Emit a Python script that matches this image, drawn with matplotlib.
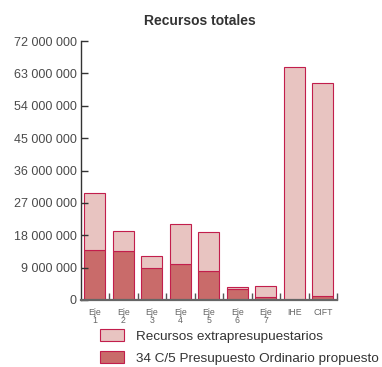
import matplotlib
matplotlib.use("Agg")
import matplotlib.pyplot as plt
from matplotlib.patches import Patch
from matplotlib.ticker import FuncFormatter

plt.rcParams["font.family"] = ["Liberation Sans", "DejaVu Sans"]

categorias = ["Eje\n1", "Eje\n2", "Eje\n3", "Eje\n4", "Eje\n5", "Eje\n6", "Eje\n7", "IHE", "CIFT"]
# valores en millones
presupuesto_ordinario = [13.8, 13.6, 8.9, 10.0, 8.2, 3.1, 0.8, 0.0, 1.1]
total_recursos = [29.8, 19.2, 12.3, 21.2, 18.9, 3.5, 4.0, 64.9, 60.2]
extrapresupuestarios = [t - p for t, p in zip(total_recursos, presupuesto_ordinario)]

color_claro = "#E8C4C1"
color_oscuro = "#C96B6A"
color_borde = "#C21E4C"

fig = plt.figure(figsize=(3.82, 3.67), dpi=100)
ax = fig.add_axes([80.7 / 382, 1 - 300 / 367, (337 - 80.7) / 382, (300 - 41) / 367])

x = list(range(len(categorias)))
ax.bar(x, [v * 1e6 for v in presupuesto_ordinario], width=0.74,
       color=color_oscuro, edgecolor=color_borde, linewidth=0.8)
ax.bar(x, [v * 1e6 for v in extrapresupuestarios], width=0.74,
       bottom=[v * 1e6 for v in presupuesto_ordinario],
       color=color_claro, edgecolor=color_borde, linewidth=0.8)

ax.set_xlim(-0.5, 8.5)
ax.set_ylim(0, 72e6)
ax.set_yticks([i * 9e6 for i in range(9)])
ax.yaxis.set_major_formatter(FuncFormatter(lambda v, p: f"{int(v):,}".replace(",", " ")))
ax.tick_params(axis="y", direction="in", length=5, width=1, color="#333333",
               labelsize=9, labelcolor="#4a4a4a", pad=3)

ax.set_xticks(x)
ax.set_xticklabels(categorias, fontsize=6.3, color="#666666", linespacing=0.8)
ax.tick_params(axis="x", which="major", length=0, pad=6)
ax.set_xticks([i + 0.5 for i in range(9)], minor=True)
ax.tick_params(axis="x", which="minor", direction="in", length=5, width=1, color="#555555")

for lado in ["top", "right"]:
    ax.spines[lado].set_visible(False)
ax.spines["left"].set_color("#333333")
ax.spines["left"].set_linewidth(1)
ax.spines["bottom"].set_color("#666666")
ax.spines["bottom"].set_linewidth(1.6)

fig.text(200 / 382, 1 - 21 / 367, "Recursos totales", ha="center", va="center",
         fontsize=10, fontweight="bold", color="#333333")

handles = [
    Patch(facecolor=color_claro, edgecolor=color_borde, linewidth=0.8),
    Patch(facecolor=color_oscuro, edgecolor=color_borde, linewidth=0.8),
]
etiquetas = ["Recursos extrapresupuestarios", "34 C/5 Presupuesto Ordinario propuesto"]
fig.legend(handles, etiquetas, loc="upper left", bbox_to_anchor=(100 / 382, 1 - 329 / 367),
           frameon=False, fontsize=9.7, borderpad=0, borderaxespad=0,
           handlelength=1.8, handleheight=1.05, handletextpad=0.85, labelspacing=0.6,
           labelcolor="#333333")

fig.savefig("out.png", dpi=100)
